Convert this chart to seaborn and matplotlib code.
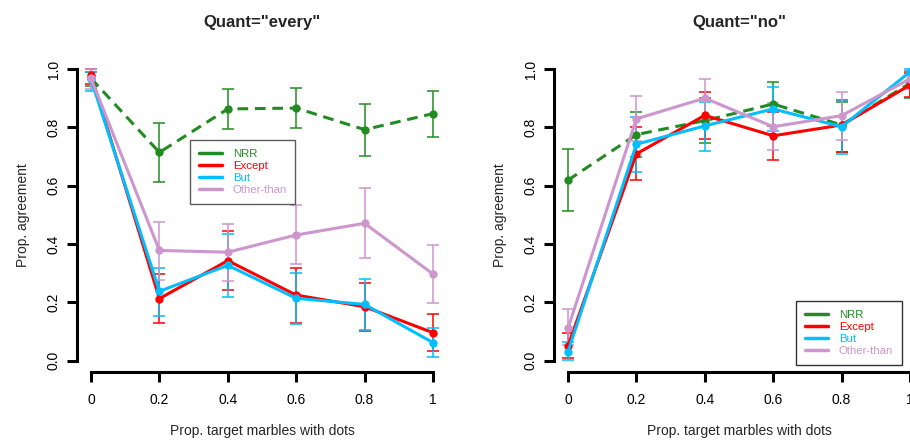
import numpy as np
import pandas as pd
import matplotlib
matplotlib.use("Agg")
import matplotlib.pyplot as plt
import seaborn as sns
from matplotlib.lines import Line2D

sns.set_style("white")
plt.rcParams['font.family'] = ['Liberation Sans', 'DejaVu Sans']

x_vals = [0, 0.2, 0.4, 0.6, 0.8, 1]
x_labels = ["0", "0.2", "0.4", "0.6", "0.8", "1"]
series = ["NRR", "Except", "But", "Other-than"]
colors = {"NRR": "#228B22", "Except": "#FF0000", "But": "#00BFFF", "Other-than": "#CD96CD"}

# Quant="every"
every_mean = {
    "NRR":        [0.968, 0.714, 0.863, 0.866, 0.792, 0.847],
    "Except":     [0.980, 0.213, 0.343, 0.225, 0.185, 0.096],
    "But":        [0.965, 0.238, 0.327, 0.214, 0.193, 0.062],
    "Other-than": [0.968, 0.378, 0.372, 0.431, 0.471, 0.297],
}
every_hi = {
    "NRR":        [0.990, 0.814, 0.930, 0.934, 0.880, 0.924],
    "Except":     [1.000, 0.296, 0.443, 0.317, 0.268, 0.159],
    "But":        [0.990, 0.319, 0.434, 0.300, 0.281, 0.111],
    "Other-than": [1.000, 0.477, 0.470, 0.533, 0.592, 0.397],
}
every_lo = {
    "NRR":        [0.940, 0.614, 0.794, 0.797, 0.702, 0.768],
    "Except":     [0.950, 0.128, 0.243, 0.128, 0.102, 0.033],
    "But":        [0.925, 0.155, 0.219, 0.126, 0.106, 0.012],
    "Other-than": [0.930, 0.277, 0.273, 0.330, 0.351, 0.197],
}

# Quant="no"
no_mean = {
    "NRR":        [0.619, 0.775, 0.823, 0.880, 0.808, 0.951],
    "Except":     [0.051, 0.709, 0.841, 0.771, 0.808, 0.945],
    "But":        [0.031, 0.742, 0.805, 0.863, 0.802, 0.990],
    "Other-than": [0.111, 0.829, 0.900, 0.802, 0.840, 0.966],
}
no_hi = {
    "NRR":        [0.724, 0.853, 0.900, 0.956, 0.888, 0.994],
    "Except":     [0.094, 0.800, 0.920, 0.853, 0.893, 0.985],
    "But":        [0.065, 0.837, 0.888, 0.937, 0.895, 1.000],
    "Other-than": [0.179, 0.907, 0.964, 0.882, 0.920, 0.995],
}
no_lo = {
    "NRR":        [0.513, 0.697, 0.746, 0.804, 0.716, 0.900],
    "Except":     [0.009, 0.619, 0.760, 0.688, 0.716, 0.905],
    "But":        [0.003, 0.648, 0.719, 0.789, 0.707, 0.960],
    "Other-than": [0.053, 0.754, 0.836, 0.722, 0.757, 0.930],
}

panels = [
    ('Quant="every"', every_mean, every_lo, every_hi),
    ('Quant="no"', no_mean, no_lo, no_hi),
]

fig = plt.figure(figsize=(9.1, 4.4), dpi=100)
W, H = 910, 440
ax_w = 369.4 / W
ax_h = (372.4 - 57.3) / H
ax_b = (H - 372.4) / H
lefts = [77.3 / W, 554.3 / W]

for (title, mean, lo, hi), left in zip(panels, lefts):
    ax = fig.add_axes([left, ax_b, ax_w, ax_h])
    rows = []
    for s in series:
        for xv, m in zip(x_vals, mean[s]):
            rows.append({"x": xv, "y": m, "series": s})
    df = pd.DataFrame(rows)
    sns.lineplot(data=df, x="x", y="y", hue="series", hue_order=series,
                 style="series", style_order=series,
                 dashes={"NRR": (3.5, 2.2), "Except": "", "But": "", "Other-than": ""},
                 markers={s: "o" for s in series}, markersize=6, markeredgewidth=0,
                 palette=colors, linewidth=2.2, errorbar=None, legend=False, ax=ax,
                 zorder=3)
    for s in series:
        m = np.array(mean[s]); l = np.array(lo[s]); h = np.array(hi[s])
        ax.errorbar(x_vals, m, yerr=[m - l, h - m], fmt="none", ecolor=colors[s],
                    elinewidth=1.1, capsize=4, capthick=1.1, zorder=2)
    ax.set_xlim(-0.04, 1.04)
    ax.set_ylim(-0.04, 1.04)
    ax.set_xticks(x_vals)
    ax.set_xticklabels(x_labels)
    ax.set_yticks([0, 0.2, 0.4, 0.6, 0.8, 1.0])
    ax.set_yticklabels(["0.0", "0.2", "0.4", "0.6", "0.8", "1.0"], rotation=90, va="center")
    for side in ["top", "right"]:
        ax.spines[side].set_visible(False)
    for side in ["left", "bottom"]:
        ax.spines[side].set_bounds(0, 1)
        ax.spines[side].set_linewidth(2.2)
        ax.spines[side].set_color("black")
    ax.tick_params(axis="both", direction="out", length=7, width=2.2, labelsize=10,
                   colors="black", bottom=True, left=True)
    ax.tick_params(axis="x", pad=8)
    ax.tick_params(axis="y", pad=5)
    ax.set_xlabel("Prop. target marbles with dots", fontsize=10, labelpad=12)
    ax.set_ylabel("Prop. agreement", fontsize=10, labelpad=12)
    ax.set_title(title, fontsize=12, fontweight="bold", pad=22)
    ax.grid(False)

    handles = [Line2D([0], [0], color=colors[s], lw=2.5) for s in series]
    if title.endswith('"every"'):
        loc_box = ((190 - left * W) / 369.4, (372.4 - 204) / 315.1)
        edge = "#333333"
    else:
        loc_box = ((796 - left * W) / 369.4, (372.4 - 365) / 315.1)
        edge = "black"
    leg = ax.legend(handles, series, loc="lower left", bbox_to_anchor=loc_box,
                    fontsize=8.2, frameon=True, fancybox=False, edgecolor=edge,
                    handlelength=2.1, borderpad=0.75, labelspacing=0.2,
                    handletextpad=0.9, borderaxespad=0)
    leg.get_frame().set_linewidth(1.0)
    for txt, s in zip(leg.get_texts(), series):
        txt.set_color(colors[s])

fig.savefig("out.png", dpi=100)
